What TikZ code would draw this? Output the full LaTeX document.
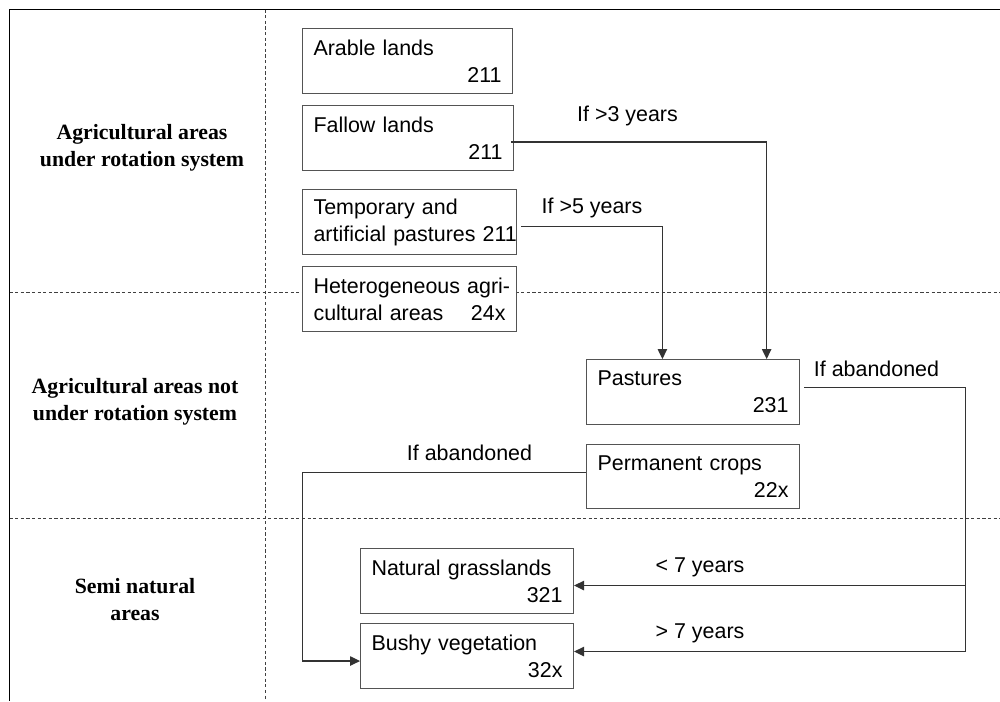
\documentclass[tikz,border=0pt]{standalone}
\usepackage{fontspec}
\setmainfont{Liberation Sans}
\newfontfamily\zonefont{Liberation Serif}
\usetikzlibrary{arrows.meta,calc}
\definecolor{boxgray}{rgb}{.33,.33,.33}
\newcommand{\landtext}[3]{\mbox{#1}\\\hbox to\linewidth{#2\hfil#3}}

\begin{document}
\begin{tikzpicture}[
    font=\fontsize{12.2}{15.3}\selectfont,
    landbox/.style={draw=boxgray, fill=white, line width=.6pt, anchor=north west,
      minimum height=1.3cm, inner xsep=.22cm, text width=#1, align=left},
    zone/.style={font=\zonefont\bfseries\fontsize{12.4}{15.4}\selectfont, align=center},
    flow/.style={draw=black!80, line width=.65pt, -{Triangle[length=2mm,width=1.9mm]}},
    sep/.style={black!75, line width=.5pt, dash pattern=on 1.8pt off 1.4pt}]
      \useasboundingbox (0,0) rectangle (20,-14.02);
      \draw[line width=.9pt] (20,-.19) -- (.19,-.19) -- (.19,-14.02);
      \draw[sep] (5.3,-.19) -- (5.3,-14.02);
      \draw[sep] (.19,-5.85) -- (20,-5.85);
      \draw[sep] (.19,-10.37) -- (20,-10.37);

      \node[zone] (rot) at (2.84,-2.96) {Agricultural areas\\under rotation system};
      \node[zone] (norot) at (2.7,-8.04) {Agricultural areas not\\under rotation system};
      \node[zone] (semi) at (2.7,-12) {Semi natural\\areas};

      \node[landbox=3.76cm] (arable) at (6.04,-.56) {\landtext{Arable lands}{}{211}};
      \node[landbox=3.78cm] (fallow) at (6.04,-2.1) {\landtext{Fallow lands}{}{211}};
      \node[landbox=3.84cm] (temp) at (6.04,-3.78) {\landtext{Temporary and}{artificial pastures 211}{}};
      \node[landbox=3.84cm] (hetero) at (6.04,-5.32) {\landtext{Heterogeneous agri-}{cultural areas}{24x}};
      \node[landbox=3.82cm] (pastures) at (11.72,-7.18) {\landtext{Pastures}{}{231}};
      \node[landbox=3.82cm, minimum height=1.28cm] (permanent) at (11.72,-8.88) {\landtext{Permanent crops}{}{22x}};
      \node[landbox=3.82cm] (natural) at (7.2,-10.96) {\landtext{Natural grasslands}{}{321}};
      \node[landbox=3.82cm] (bushy) at (7.2,-12.46) {\landtext{Bushy vegetation}{}{32x}};

      \draw[flow] ($(fallow.east)+(-.06,-.08)$) -| ($(pastures.north west)!.844!(pastures.north east)$);
      \draw[flow] ($(temp.east)+(.08,-.09)$) -| ($(pastures.north west)!.357!(pastures.north east)$);
      \node (ifthree) at (12.55,-2.32) {If >3 years};
      \node (iffive) at (11.84,-4.16) {If >5 years};

      \draw[flow] ($(pastures.east)+(.08,.09)$) -- ++(3.23,0) coordinate (drop) |- ($(bushy.east)+(0,.09)$);
      \draw[flow] ($(drop |- natural.east)+(0,-.09)$) -- ($(natural.east)+(0,-.09)$);
      \node (abandona) at (17.53,-7.38) {If abandoned};
      \node (less) at (14,-11.34) {< 7 years};
      \node (more) at (14,-12.66) {> 7 years};

      \draw[flow] ($(permanent.west)+(0,.08)$) -| ($(bushy.west)+(-1.15,-.1)$) -- ($(bushy.west)+(0,-.1)$);
      \node (abandonb) at (9.39,-9.06) {If abandoned};
    \end{tikzpicture}
\end{document}
